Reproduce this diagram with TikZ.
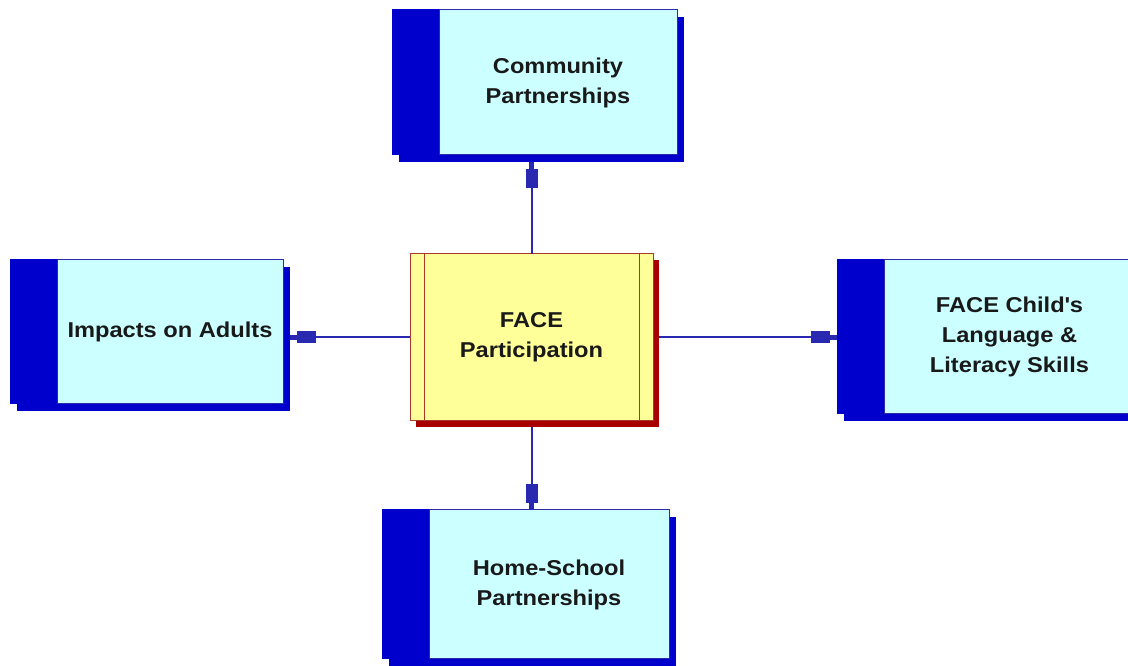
\documentclass[tikz,border=0pt]{standalone}
\usepackage{fontspec}
\setmainfont{Liberation Sans}[FakeStretch=1.1]
\usetikzlibrary{arrows.meta,shadows}
\definecolor{blockblue}{HTML}{0000CC}
\definecolor{faceblue}{HTML}{CCFFFF}
\definecolor{edgeblue}{HTML}{2B2BA8}
\definecolor{linkblue}{HTML}{2828B0}
\definecolor{centerfill}{HTML}{FFFF99}
\definecolor{centeredge}{HTML}{A83A2A}
\definecolor{centershadow}{HTML}{A80000}
\tikzset{
    boxblock/.style={rectangle, fill=blockblue, draw=blockblue, line width=1pt, inner sep=0pt, outer sep=0pt,
        drop shadow={shadow xshift=7pt, shadow yshift=-7pt, fill=blockblue, opacity=1}},
    boxface/.style={rectangle, fill=faceblue, draw=edgeblue, line width=1pt, inner sep=0pt, outer sep=0pt,
        align=center, text=black!90, font=\fontsize{21.5}{30}\selectfont\bfseries},
    centerbox/.style={rectangle, fill=centerfill, draw=centeredge, line width=1pt, inner sep=0pt, outer sep=0pt,
        align=center, text=black!90, font=\fontsize{21.5}{30}\selectfont\bfseries,
        drop shadow={shadow xshift=6pt, shadow yshift=-6pt, fill=centershadow, opacity=1},
        path picture={
            \draw[centeredge, line width=1pt] ([xshift=14pt]path picture bounding box.north west) -- ([xshift=14pt]path picture bounding box.south west);
            \draw[centeredge, line width=1pt] ([xshift=-14pt]path picture bounding box.north east) -- ([xshift=-14pt]path picture bounding box.south east);
        }},
    link/.style={color=linkblue, line width=2pt, -{Rectangle[length=19pt,width=12pt] Rectangle[length=7pt,width=5pt]}}
}
\begin{document}
\begin{tikzpicture}[x=1pt, y=1pt]
            \useasboundingbox (0,0) rectangle (1128,666);
            \clip (0,0) rectangle (1128,666);
            \foreach \name/\cx/\cy/\w/\h/\txt in {
                    community/534.5/583.5/285/145/{Community\\Partnerships},
                    impacts/146.5/334/273/144/{Impacts on Adults},
                    literacy/986/329/298/154/{FACE Child\textquotesingle s\\Language \&\\Literacy Skills},
                    homeschool/525.5/81.5/287/149/{Home-School\\Partnerships}}
                {
                    \node[boxblock, minimum width=\w pt, minimum height=\h pt] (\name) at (\cx,\cy) {};
                    \node[boxface, minimum width={(\w-47)*1pt}, minimum height=\h pt, anchor=east] (\name text) at (\name.east) {\txt};
                }
            \node[centerbox, minimum width=243pt, minimum height=167pt] (participation) at (531.5,328.5) {FACE\\Participation};
            \draw[link] (participation.north) -- ([yshift=-7pt]participation.north |- community.south);
            \draw[link] (participation.west) -- ([xshift=7pt]participation.west -| impacts.east);
            \draw[link] ([xshift=6pt]participation.east) -- (participation.east -| literacy.west);
            \draw[link] ([yshift=-6pt]participation.south) -- (participation.south |- homeschool.north);
        \end{tikzpicture}
\end{document}
